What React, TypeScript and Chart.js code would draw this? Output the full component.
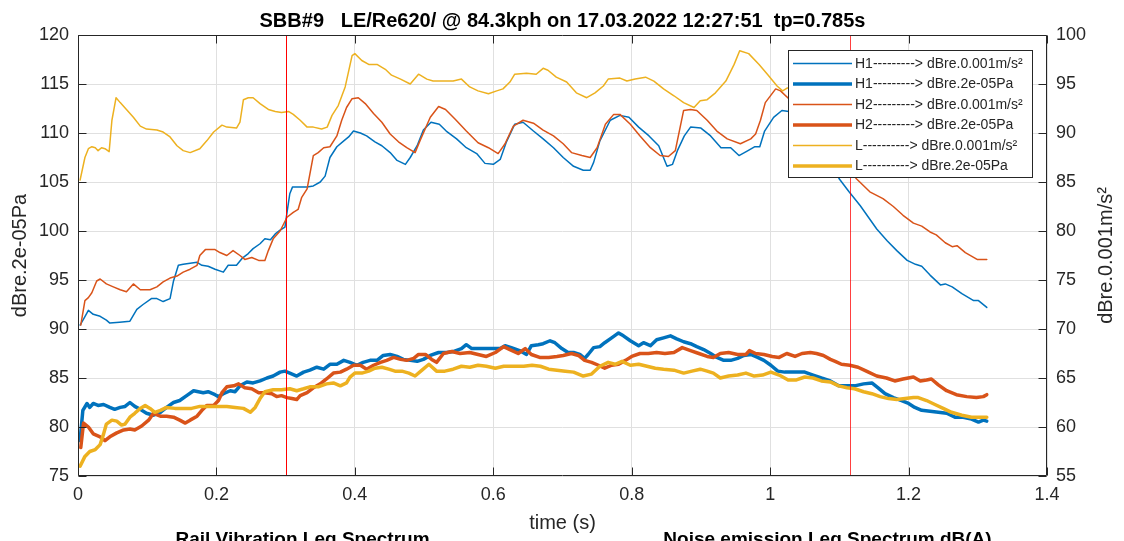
import React, { useEffect, useRef } from "react";
import { Chart, registerables } from "chart.js";

Chart.register(...registerables);

const FONT = '"Liberation Sans", Arial, Helvetica, sans-serif';

const TITLE = "SBB#9   LE/Re620/ @ 84.3kph on 17.03.2022 12:27:51  tp=0.785s";
const X_LABEL = "time (s)";
const Y_LEFT_LABEL = "dBre.2e-05Pa";
const Y_RIGHT_LABEL = "dBre.0.001m/s²";
const SUBPLOT_TITLES = ["Rail Vibration Leq Spectrum", "Noise emission Leq Spectrum dB(A)"];

const X_TICKS = [0, 0.2, 0.4, 0.6, 0.8, 1, 1.2, 1.4];
const LEFT_TICKS = [75, 80, 85, 90, 95, 100, 105, 110, 115, 120];
const RIGHT_TICKS = [55, 60, 65, 70, 75, 80, 85, 90, 95, 100];
const MARKERS = [0.3, 1.115];

const LEGEND_LABELS = [
  "H1---------> dBre.0.001m/s²",
  "H1---------> dBre.2e-05Pa",
  "H2---------> dBre.0.001m/s²",
  "H2---------> dBre.2e-05Pa",
  "L----------> dBre.0.001m/s²",
  "L----------> dBre.2e-05Pa",
];

// thin lines: right axis (dBre.0.001m/s²)
const H1_VIB: [number, number][] = [
  [0.003, 70.4], [0.008, 71.0], [0.015, 71.9], [0.022, 71.5], [0.032, 71.3], [0.041, 70.9], [0.046, 70.6], [0.06, 70.7],
  [0.075, 70.8], [0.085, 72.0], [0.094, 72.5], [0.106, 73.1], [0.114, 73.1], [0.123, 72.8], [0.133, 73.1], [0.138, 74.9],
  [0.145, 76.5], [0.152, 76.6], [0.162, 76.7], [0.172, 76.8], [0.179, 76.5], [0.188, 76.4], [0.198, 76.1], [0.21, 75.8],
  [0.217, 76.5], [0.229, 76.5], [0.237, 77.2], [0.246, 77.7], [0.253, 78.2], [0.263, 78.7], [0.27, 79.2], [0.278, 79.1],
  [0.285, 79.7], [0.292, 80.1], [0.299, 80.4], [0.302, 81.9], [0.306, 83.8], [0.31, 84.5], [0.321, 84.5], [0.331, 84.5],
  [0.34, 84.6], [0.35, 85.0], [0.357, 85.6], [0.364, 87.5], [0.374, 88.6], [0.384, 89.2], [0.391, 89.6], [0.398, 90.2],
  [0.408, 90.0], [0.417, 89.7], [0.429, 89.1], [0.439, 88.7], [0.451, 88.0], [0.461, 87.2], [0.473, 86.8], [0.48, 87.5],
  [0.49, 88.7], [0.499, 90.3], [0.51, 91.1], [0.522, 90.9], [0.532, 90.2], [0.547, 89.4], [0.561, 88.5], [0.576, 87.9],
  [0.588, 86.9], [0.6, 86.8], [0.61, 87.3], [0.619, 89.1], [0.631, 90.9], [0.643, 91.1], [0.658, 90.2], [0.672, 89.4],
  [0.687, 88.5], [0.701, 87.5], [0.716, 86.6], [0.73, 86.2], [0.74, 86.2], [0.745, 87.0], [0.754, 89.2], [0.769, 91.3],
  [0.783, 91.8], [0.796, 91.6], [0.81, 90.6], [0.825, 89.7], [0.839, 88.7], [0.851, 86.6], [0.859, 86.8], [0.866, 88.2],
  [0.876, 89.7], [0.885, 90.6], [0.9, 90.5], [0.914, 89.7], [0.929, 88.5], [0.943, 88.5], [0.955, 87.7], [0.968, 88.2],
  [0.978, 88.6], [0.985, 88.6], [0.992, 90.2], [1.005, 91.6], [1.017, 92.3], [1.027, 92.2], [1.045, 91.5], [1.065, 89.8],
  [1.085, 87.5], [1.1, 85.3], [1.114, 84.0], [1.13, 82.6], [1.142, 81.4], [1.154, 80.2], [1.169, 79.0], [1.183, 78.0],
  [1.198, 77.0], [1.21, 76.6], [1.219, 76.4], [1.231, 75.5], [1.246, 74.5], [1.253, 74.6], [1.263, 74.3], [1.277, 73.6],
  [1.294, 72.9], [1.301, 72.9], [1.313, 72.2],
];

const H2_VIB: [number, number][] = [
  [0.004, 70.4], [0.01, 72.9], [0.015, 73.2], [0.02, 73.7], [0.027, 74.9], [0.032, 75.1], [0.041, 74.6], [0.051, 74.3],
  [0.061, 74.0], [0.07, 73.8], [0.08, 74.6], [0.09, 74.0], [0.104, 74.0], [0.114, 74.3], [0.123, 74.8], [0.133, 75.2],
  [0.143, 75.4], [0.152, 75.8], [0.162, 76.1], [0.172, 76.5], [0.176, 77.5], [0.184, 78.1], [0.198, 78.1], [0.205, 77.8],
  [0.215, 77.5], [0.224, 78.0], [0.234, 77.5], [0.241, 77.1], [0.251, 77.3], [0.261, 77.0], [0.27, 77.0], [0.275, 78.0],
  [0.282, 79.2], [0.292, 80.0], [0.302, 81.4], [0.311, 81.9], [0.318, 82.2], [0.323, 83.4], [0.331, 84.3], [0.335, 85.8],
  [0.34, 87.7], [0.347, 88.0], [0.355, 88.5], [0.364, 88.6], [0.374, 89.7], [0.381, 91.3], [0.388, 92.6], [0.396, 93.5],
  [0.405, 93.6], [0.415, 93.0], [0.427, 92.0], [0.439, 91.1], [0.451, 89.9], [0.463, 89.1], [0.475, 88.5], [0.487, 88.0],
  [0.494, 89.2], [0.509, 91.6], [0.521, 92.7], [0.531, 92.4], [0.545, 91.4], [0.561, 90.2], [0.578, 89.0], [0.593, 88.5],
  [0.607, 87.9], [0.617, 88.9], [0.629, 90.7], [0.643, 91.3], [0.658, 91.0], [0.672, 90.3], [0.687, 89.7], [0.701, 88.9],
  [0.713, 88.0], [0.728, 87.7], [0.74, 87.5], [0.75, 88.5], [0.762, 90.9], [0.774, 91.9], [0.783, 91.9], [0.798, 90.9],
  [0.812, 89.7], [0.827, 88.5], [0.841, 87.7], [0.853, 87.6], [0.863, 88.2], [0.875, 92.3], [0.885, 92.4], [0.894, 92.3],
  [0.909, 91.3], [0.923, 90.2], [0.938, 89.4], [0.957, 88.9], [0.972, 89.4], [0.979, 89.9], [0.986, 91.3], [0.993, 93.1],
  [1.008, 94.5], [1.015, 94.3], [1.027, 93.5], [1.045, 92.5], [1.065, 91.0], [1.085, 89.0], [1.105, 87.0], [1.125, 85.3],
  [1.144, 84.0], [1.163, 83.3], [1.178, 82.5], [1.192, 81.6], [1.207, 80.8], [1.219, 80.5], [1.231, 79.9], [1.24, 79.6],
  [1.253, 78.8], [1.263, 78.4], [1.27, 78.5], [1.282, 77.8], [1.299, 77.1], [1.313, 77.1],
];

const L_VIB: [number, number][] = [
  [0.003, 85.2], [0.01, 87.5], [0.015, 88.4], [0.02, 88.6], [0.025, 88.5], [0.029, 88.2], [0.034, 88.5], [0.039, 88.4],
  [0.045, 88.1], [0.049, 91.3], [0.055, 93.6], [0.061, 93.1], [0.07, 92.4], [0.08, 91.6], [0.09, 90.7], [0.099, 90.4],
  [0.114, 90.3], [0.123, 90.1], [0.133, 89.6], [0.143, 88.7], [0.152, 88.2], [0.162, 88.0], [0.176, 88.4], [0.186, 89.2],
  [0.196, 90.1], [0.208, 90.8], [0.215, 90.6], [0.229, 90.5], [0.234, 91.1], [0.239, 93.4], [0.246, 93.6], [0.253, 93.6],
  [0.263, 93.0], [0.275, 92.4], [0.285, 92.2], [0.294, 92.1], [0.304, 92.2], [0.311, 91.9], [0.321, 91.3], [0.331, 90.6],
  [0.34, 90.6], [0.352, 90.4], [0.36, 90.6], [0.367, 91.8], [0.376, 92.8], [0.386, 94.7], [0.396, 97.9], [0.4, 98.1],
  [0.41, 97.4], [0.42, 97.0], [0.432, 97.0], [0.444, 96.5], [0.453, 95.9], [0.466, 95.5], [0.48, 95.0], [0.492, 96.0],
  [0.504, 95.5], [0.513, 95.3], [0.528, 95.3], [0.542, 95.3], [0.554, 95.5], [0.566, 94.7], [0.578, 94.3], [0.593, 94.0],
  [0.605, 94.3], [0.614, 94.5], [0.624, 95.2], [0.631, 96.0], [0.648, 96.1], [0.662, 96.0], [0.672, 96.6], [0.679, 96.4],
  [0.691, 95.7], [0.706, 95.2], [0.72, 94.1], [0.735, 93.6], [0.747, 94.1], [0.759, 94.8], [0.766, 95.5], [0.783, 95.6],
  [0.793, 95.3], [0.805, 95.5], [0.82, 95.7], [0.832, 95.3], [0.846, 94.5], [0.861, 93.8], [0.875, 93.1], [0.89, 92.6],
  [0.899, 93.3], [0.909, 93.4], [0.921, 94.1], [0.936, 95.3], [0.948, 97.0], [0.956, 98.4], [0.969, 98.1], [0.984, 97.0],
  [0.996, 96.0], [1.01, 94.8], [1.018, 94.3], [1.025, 94.6], [1.04, 94.2], [1.07, 93.5], [1.1, 93.0], [1.15, 92.0],
  [1.2, 91.5], [1.25, 90.8], [1.315, 90.5],
];

// thick lines: left axis (dBre.2e-05Pa)
const H1_NOISE: [number, number][] = [
  [0.003, 78.6], [0.007, 81.7], [0.013, 82.4], [0.017, 82.0], [0.022, 82.4], [0.029, 82.2], [0.037, 82.3], [0.046, 82.0],
  [0.053, 81.8], [0.061, 82.0], [0.068, 82.1], [0.075, 82.5], [0.082, 82.1], [0.09, 81.8], [0.099, 81.4], [0.109, 81.2],
  [0.119, 81.5], [0.128, 82.0], [0.138, 82.5], [0.147, 82.7], [0.157, 83.2], [0.167, 83.7], [0.174, 83.6], [0.181, 83.5],
  [0.188, 83.6], [0.198, 83.3], [0.203, 83.1], [0.21, 83.4], [0.22, 83.7], [0.227, 83.6], [0.234, 84.2], [0.244, 84.6],
  [0.253, 84.5], [0.263, 84.7], [0.273, 85.0], [0.282, 85.2], [0.292, 85.6], [0.299, 85.7], [0.306, 85.5], [0.316, 85.2],
  [0.326, 85.6], [0.335, 85.8], [0.345, 86.1], [0.355, 85.9], [0.364, 86.4], [0.374, 86.4], [0.384, 86.8], [0.393, 86.6],
  [0.403, 86.3], [0.412, 86.6], [0.422, 86.8], [0.432, 86.8], [0.441, 87.3], [0.451, 87.4], [0.461, 87.2], [0.47, 86.9],
  [0.48, 86.8], [0.49, 86.7], [0.499, 86.9], [0.509, 87.3], [0.521, 87.6], [0.533, 87.6], [0.542, 87.7], [0.554, 88.0],
  [0.561, 88.4], [0.569, 88.0], [0.581, 88.0], [0.595, 88.0], [0.61, 88.0], [0.617, 88.3], [0.626, 88.1], [0.638, 87.8],
  [0.648, 87.4], [0.655, 88.3], [0.665, 88.4], [0.672, 88.5], [0.682, 88.8], [0.689, 88.6], [0.699, 88.0], [0.708, 87.6],
  [0.716, 87.6], [0.725, 87.4], [0.732, 87.0], [0.737, 87.4], [0.745, 88.1], [0.754, 88.2], [0.761, 88.6], [0.771, 89.1],
  [0.781, 89.6], [0.788, 89.3], [0.798, 88.8], [0.81, 88.3], [0.817, 88.6], [0.827, 88.3], [0.836, 88.9], [0.846, 89.1],
  [0.856, 89.3], [0.865, 89.0], [0.875, 88.7], [0.885, 88.5], [0.894, 88.2], [0.904, 87.9], [0.914, 87.5], [0.923, 87.1],
  [0.933, 86.8], [0.943, 86.8], [0.953, 87.0], [0.962, 87.3], [0.972, 87.4], [0.982, 87.1], [0.991, 86.8], [1.001, 86.3],
  [1.011, 85.7], [1.021, 85.6], [1.03, 85.6], [1.04, 85.6], [1.05, 85.6], [1.062, 85.3], [1.074, 85.0], [1.087, 84.7],
  [1.099, 84.2], [1.111, 84.2], [1.122, 84.2], [1.135, 84.4], [1.147, 84.5], [1.156, 84.0], [1.166, 83.4], [1.178, 83.0],
  [1.19, 82.7], [1.2, 82.4], [1.209, 82.0], [1.219, 81.7], [1.231, 81.6], [1.243, 81.5], [1.255, 81.4], [1.267, 81.0],
  [1.279, 81.0], [1.291, 80.8], [1.301, 80.5], [1.308, 80.7], [1.313, 80.6],
];

const H2_NOISE: [number, number][] = [
  [0.004, 77.9], [0.008, 80.4], [0.015, 80.0], [0.022, 79.3], [0.032, 79.0], [0.039, 78.6], [0.046, 79.0], [0.056, 79.4],
  [0.066, 79.7], [0.075, 79.8], [0.082, 79.7], [0.092, 80.1], [0.102, 80.7], [0.109, 81.4], [0.119, 81.1], [0.128, 81.1],
  [0.138, 81.0], [0.147, 80.7], [0.155, 80.4], [0.162, 80.7], [0.172, 81.1], [0.179, 81.7], [0.186, 82.2], [0.196, 82.2],
  [0.203, 82.7], [0.208, 83.5], [0.215, 84.1], [0.225, 84.2], [0.232, 84.4], [0.241, 84.0], [0.251, 83.9], [0.261, 83.5],
  [0.27, 83.5], [0.28, 83.4], [0.287, 83.1], [0.294, 83.2], [0.302, 83.0], [0.309, 82.9], [0.316, 82.8], [0.321, 83.2],
  [0.331, 83.5], [0.34, 84.0], [0.35, 84.4], [0.359, 84.9], [0.369, 85.5], [0.379, 85.6], [0.388, 85.9], [0.398, 86.3],
  [0.408, 86.3], [0.417, 85.9], [0.427, 86.3], [0.437, 86.6], [0.446, 86.8], [0.456, 87.1], [0.466, 86.9], [0.475, 86.8],
  [0.485, 87.0], [0.492, 87.4], [0.502, 87.4], [0.511, 86.9], [0.518, 86.6], [0.528, 87.5], [0.54, 87.7], [0.552, 87.5],
  [0.566, 87.6], [0.578, 87.4], [0.59, 87.2], [0.603, 87.6], [0.615, 88.2], [0.624, 87.9], [0.636, 87.5], [0.646, 88.0],
  [0.655, 87.4], [0.667, 87.1], [0.68, 87.1], [0.692, 87.2], [0.701, 87.3], [0.713, 87.5], [0.723, 87.3], [0.732, 86.8],
  [0.742, 86.6], [0.752, 86.3], [0.761, 86.0], [0.771, 86.3], [0.781, 86.4], [0.791, 86.8], [0.8, 87.2], [0.812, 87.5],
  [0.824, 87.5], [0.836, 87.6], [0.848, 87.5], [0.861, 87.6], [0.873, 88.1], [0.885, 87.8], [0.897, 87.5], [0.909, 87.2],
  [0.918, 87.1], [0.928, 87.5], [0.94, 87.6], [0.953, 87.4], [0.965, 87.4], [0.97, 87.8], [0.979, 87.5], [0.991, 87.4],
  [1.003, 87.2], [1.013, 87.1], [1.024, 87.5], [1.036, 87.2], [1.046, 87.5], [1.058, 87.6], [1.067, 87.5], [1.077, 87.3],
  [1.087, 86.9], [1.094, 86.7], [1.103, 86.4], [1.115, 86.3], [1.127, 86.1], [1.139, 85.7], [1.154, 85.2], [1.168, 85.0],
  [1.18, 84.7], [1.192, 84.9], [1.207, 85.1], [1.217, 84.7], [1.226, 84.8], [1.233, 84.9], [1.243, 84.3], [1.255, 83.7],
  [1.269, 83.3], [1.284, 83.1], [1.298, 83.0], [1.308, 83.1], [1.313, 83.3],
];

const L_NOISE: [number, number][] = [
  [0.003, 76.0], [0.01, 77.0], [0.017, 77.5], [0.025, 77.7], [0.032, 78.2], [0.037, 79.3], [0.041, 80.3], [0.049, 80.7],
  [0.056, 80.6], [0.063, 80.2], [0.068, 80.3], [0.075, 81.0], [0.082, 81.4], [0.09, 81.9], [0.097, 82.2], [0.104, 81.9],
  [0.111, 81.5], [0.119, 81.7], [0.128, 82.0], [0.14, 81.9], [0.152, 81.9], [0.164, 81.9], [0.176, 82.1], [0.188, 82.1],
  [0.2, 82.1], [0.215, 82.1], [0.227, 82.0], [0.239, 81.9], [0.249, 81.5], [0.256, 82.0], [0.263, 82.9], [0.27, 83.6],
  [0.282, 83.8], [0.294, 83.8], [0.306, 83.9], [0.316, 83.7], [0.326, 83.9], [0.335, 84.1], [0.347, 84.1], [0.359, 84.4],
  [0.369, 84.5], [0.379, 84.2], [0.388, 84.5], [0.393, 85.1], [0.4, 85.5], [0.41, 85.5], [0.42, 85.7], [0.429, 86.0],
  [0.439, 86.1], [0.449, 85.9], [0.458, 85.7], [0.468, 85.7], [0.478, 85.5], [0.487, 85.2], [0.497, 85.8], [0.507, 86.4],
  [0.518, 85.7], [0.53, 85.7], [0.542, 85.9], [0.554, 86.2], [0.566, 86.1], [0.578, 86.3], [0.59, 86.2], [0.603, 86.0],
  [0.615, 86.2], [0.629, 86.2], [0.644, 86.2], [0.656, 86.3], [0.668, 86.2], [0.68, 85.9], [0.692, 85.8], [0.704, 85.7],
  [0.716, 85.6], [0.73, 85.2], [0.742, 85.4], [0.754, 86.2], [0.766, 86.6], [0.776, 86.4], [0.786, 86.7], [0.798, 86.3],
  [0.81, 86.4], [0.822, 86.2], [0.834, 86.0], [0.846, 85.9], [0.861, 85.8], [0.875, 85.5], [0.887, 85.7], [0.899, 85.9],
  [0.909, 85.7], [0.918, 85.5], [0.928, 85.0], [0.94, 85.2], [0.953, 85.3], [0.965, 85.5], [0.977, 85.2], [0.989, 85.3],
  [1.001, 85.6], [1.013, 85.3], [1.026, 84.8], [1.038, 84.8], [1.05, 85.1], [1.062, 85.0], [1.074, 84.7], [1.087, 84.6],
  [1.099, 84.2], [1.111, 84.0], [1.122, 83.9], [1.135, 83.6], [1.147, 83.4], [1.159, 83.1], [1.171, 82.9], [1.183, 82.8],
  [1.195, 82.9], [1.207, 83.0], [1.214, 83.0], [1.226, 82.7], [1.238, 82.3], [1.25, 81.9], [1.262, 81.5], [1.277, 81.2],
  [1.291, 81.0], [1.303, 81.0], [1.313, 81.0],
];

const BLUE = "#0072BD";
const ORANGE = "#D95319";
const YELLOW = "#EDB120";
const AXIS_COLOR = "#262626";
const GRID_COLOR = "#e0e0e0";

const SERIES = [
  { label: LEGEND_LABELS[0], data: H1_VIB, color: BLUE, width: 1.5, axis: "y1" },
  { label: LEGEND_LABELS[1], data: H1_NOISE, color: BLUE, width: 3.5, axis: "y" },
  { label: LEGEND_LABELS[2], data: H2_VIB, color: ORANGE, width: 1.5, axis: "y1" },
  { label: LEGEND_LABELS[3], data: H2_NOISE, color: ORANGE, width: 3.5, axis: "y" },
  { label: LEGEND_LABELS[4], data: L_VIB, color: YELLOW, width: 1.5, axis: "y1" },
  { label: LEGEND_LABELS[5], data: L_NOISE, color: YELLOW, width: 3.5, axis: "y" },
];

const decorPlugin = {
  id: "decor",
  afterDatasetsDraw(chart: any) {
    const { ctx, chartArea: a, scales } = chart;
    ctx.save();
    ctx.strokeStyle = "#ff0000";
    ctx.lineWidth = 1;
    MARKERS.forEach((t, i) => {
      const x = Math.round(scales.x.getPixelForValue(t)) + 0.5;
      ctx.globalAlpha = i === 0 ? 1 : 0.75;
      ctx.beginPath();
      ctx.moveTo(x, a.top);
      ctx.lineTo(x, a.bottom);
      ctx.stroke();
    });
    ctx.restore();
  },
  afterDraw(chart: any) {
    const { ctx, chartArea: a, scales } = chart;
    ctx.save();
    // box
    ctx.strokeStyle = AXIS_COLOR;
    ctx.lineWidth = 1;
    const L = Math.round(a.left) + 0.5;
    const R = Math.round(a.right) - 0.5;
    const T = Math.round(a.top) + 0.5;
    const B = Math.round(a.bottom) - 0.5;
    ctx.beginPath();
    ctx.moveTo(L, T);
    ctx.lineTo(R, T);
    ctx.lineTo(R, B);
    ctx.lineTo(L, B);
    ctx.closePath();
    ctx.stroke();
    // inward ticks
    const TL = 8;
    ctx.beginPath();
    X_TICKS.forEach((v) => {
      const x = Math.round(scales.x.getPixelForValue(v)) + 0.5;
      ctx.moveTo(x, B);
      ctx.lineTo(x, B - TL);
      ctx.moveTo(x, T);
      ctx.lineTo(x, T + TL);
    });
    LEFT_TICKS.forEach((v) => {
      const y = Math.round(scales.y.getPixelForValue(v)) + 0.5;
      ctx.moveTo(L, y);
      ctx.lineTo(L + TL, y);
    });
    RIGHT_TICKS.forEach((v) => {
      const y = Math.round(scales.y1.getPixelForValue(v)) + 0.5;
      ctx.moveTo(R, y);
      ctx.lineTo(R - TL, y);
    });
    ctx.stroke();

    // legend
    const lx = 788, ly = 50, lw = 244, lh = 127;
    ctx.fillStyle = "#ffffff";
    ctx.fillRect(lx, ly, lw, lh);
    ctx.strokeStyle = AXIS_COLOR;
    ctx.lineWidth = 1;
    ctx.strokeRect(lx + 0.5, ly + 0.5, lw, lh);
    ctx.font = `14px ${FONT}`;
    ctx.textBaseline = "middle";
    ctx.textAlign = "left";
    SERIES.forEach((s, i) => {
      const y = 63.5 + i * 20.5;
      ctx.strokeStyle = s.color;
      ctx.lineWidth = s.width;
      ctx.beginPath();
      ctx.moveTo(793, y);
      ctx.lineTo(852, y);
      ctx.stroke();
      ctx.fillStyle = AXIS_COLOR;
      ctx.fillText(s.label, 855, y + 0.5);
    });

    // title
    ctx.fillStyle = "#000000";
    ctx.textAlign = "center";
    ctx.textBaseline = "alphabetic";
    ctx.font = `bold 20px ${FONT}`;
    ctx.fillText(TITLE, (a.left + a.right) / 2, 26.5);

    // axis labels
    ctx.fillStyle = AXIS_COLOR;
    ctx.font = `20px ${FONT}`;
    ctx.textBaseline = "middle";
    ctx.fillText(X_LABEL, (a.left + a.right) / 2, 523);
    const midY = (a.top + a.bottom) / 2;
    ctx.save();
    ctx.translate(20, midY);
    ctx.rotate(-Math.PI / 2);
    ctx.fillText(Y_LEFT_LABEL, 0, 0);
    ctx.restore();
    ctx.save();
    ctx.translate(1106, midY);
    ctx.rotate(-Math.PI / 2);
    ctx.fillText(Y_RIGHT_LABEL, 0, 0);
    ctx.restore();

    // cut-off subplot titles below
    ctx.fillStyle = "#000000";
    ctx.font = `bold 19px ${FONT}`;
    ctx.textBaseline = "alphabetic";
    ctx.fillText(SUBPLOT_TITLES[0], 302.5, 545);
    ctx.fillText(SUBPLOT_TITLES[1], 827.5, 545);
    ctx.restore();
  },
};

const fmt = (v: any) => String(Math.round(Number(v) * 10) / 10);

export default function App() {
  const ref = useRef<HTMLCanvasElement | null>(null);
  useEffect(() => {
    if (!ref.current) return;
    const datasets = SERIES.map((s, i) => ({
      label: s.label,
      data: s.data.map(([x, y]) => ({ x, y })),
      borderColor: s.color,
      backgroundColor: s.color,
      borderWidth: s.width,
      yAxisID: s.axis,
      pointRadius: 0,
      tension: 0,
      fill: false,
      borderJoinStyle: "round" as const,
      borderCapStyle: "round" as const,
      order: SERIES.length - 1 - i,
    }));
    const tickFont = { family: FONT, size: 18 };
    const chart = new Chart(ref.current, {
      type: "line",
      data: { datasets },
      options: {
        animation: false,
        responsive: true,
        maintainAspectRatio: false,
        layout: { padding: { top: 35, left: 0, right: 0, bottom: 0 } },
        plugins: {
          legend: { display: false },
          title: { display: false },
          tooltip: { enabled: false },
        },
        scales: {
          x: {
            type: "linear",
            min: 0,
            max: 1.4,
            afterBuildTicks: (s: any) => {
              s.ticks = X_TICKS.map((value) => ({ value }));
            },
            ticks: { callback: fmt, font: tickFont, color: AXIS_COLOR, padding: 8, maxRotation: 0, autoSkip: false },
            grid: { color: GRID_COLOR, drawTicks: false, lineWidth: 1 },
            border: { display: false },
            afterFit: (s: any) => {
              s.height = 65;
            },
          },
          y: {
            type: "linear",
            position: "left",
            min: 75,
            max: 120,
            afterBuildTicks: (s: any) => {
              s.ticks = LEFT_TICKS.map((value) => ({ value }));
            },
            ticks: { font: tickFont, color: AXIS_COLOR, padding: 9, autoSkip: false },
            grid: { color: GRID_COLOR, drawTicks: false, lineWidth: 1 },
            border: { display: false },
            afterFit: (s: any) => {
              s.width = 78;
            },
          },
          y1: {
            type: "linear",
            position: "right",
            min: 55,
            max: 100,
            afterBuildTicks: (s: any) => {
              s.ticks = RIGHT_TICKS.map((value) => ({ value }));
            },
            ticks: { font: tickFont, color: AXIS_COLOR, padding: 9, autoSkip: false },
            grid: { drawOnChartArea: false, drawTicks: false },
            border: { display: false },
            afterFit: (s: any) => {
              s.width = 77;
            },
          },
        },
      },
      plugins: [decorPlugin],
    } as any);
    return () => chart.destroy();
  }, []);
  return (
    <div style={{ position: "fixed", left: 0, top: 0, width: 1124, height: 541, background: "#ffffff" }}>
      <canvas ref={ref} />
    </div>
  );
}
